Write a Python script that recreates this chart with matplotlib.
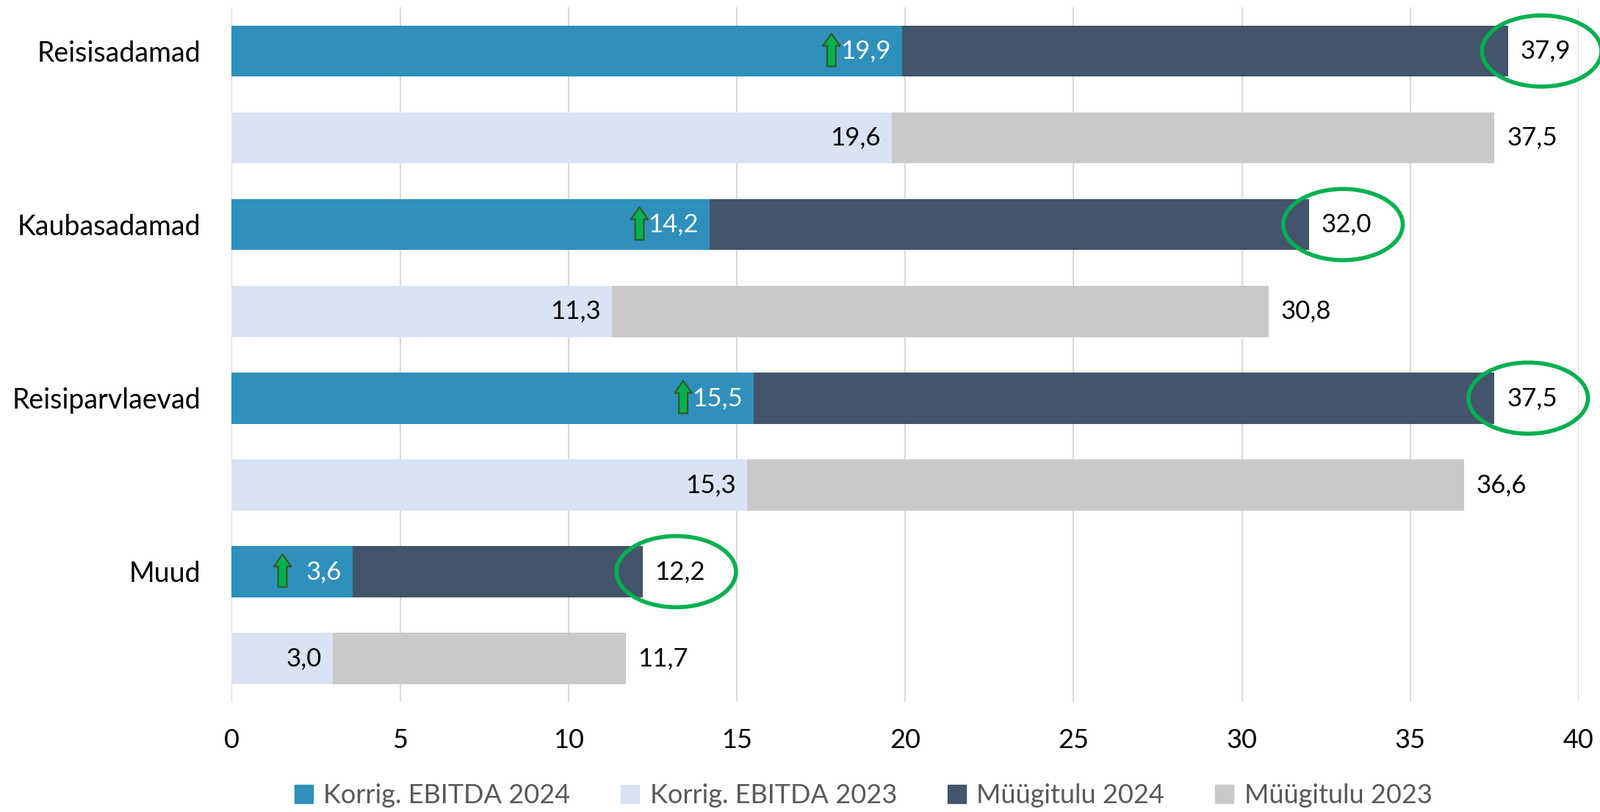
import numpy as np
import matplotlib.pyplot as plt
from matplotlib.patches import Ellipse, Patch
from matplotlib.transforms import offset_copy

plt.rcParams['font.family'] = ['Lato', 'DejaVu Sans']

# Data (MEUR), top to bottom
segments = ["Reisisadamad", "Kaubasadamad", "Reisiparvlaevad", "Muud"]
ebitda_2024 = [19.9, 14.2, 15.5, 3.6]
ebitda_2023 = [19.6, 11.3, 15.3, 3.0]
revenue_2024 = [37.9, 32.0, 37.5, 12.2]
revenue_2023 = [37.5, 30.8, 36.6, 11.7]
x_ticks = [0, 5, 10, 15, 20, 25, 30, 35, 40]

legend_labels = ["Korrig. EBITDA 2024", "Korrig. EBITDA 2023", "Müügitulu 2024", "Müügitulu 2023"]

c_eb24 = '#2E90BB'
c_eb23 = '#DAE3F3'
c_rev24 = '#44546A'
c_rev23 = '#C9C9C9'
c_green = '#00B050'


def fmt(v):
    return f"{v:.1f}".replace('.', ',')


fig = plt.figure(figsize=(21.78, 11.05), dpi=100)
ax = fig.add_axes([0.1448, 0.1357, 0.8419, 0.8549])

n = len(segments)
# each segment has two rows: 2024 on top, 2023 below
y24 = np.arange(n) * 2
y23 = y24 + 1
h = 0.59
lab_fs = 25

ax.barh(y24, revenue_2024, height=h, color=c_rev24, zorder=2)
ax.barh(y24, ebitda_2024, height=h, color=c_eb24, zorder=3)
ax.barh(y23, revenue_2023, height=h, color=c_rev23, zorder=2)
ax.barh(y23, ebitda_2023, height=h, color=c_eb23, zorder=3)

for i in range(n):
    # EBITDA labels inside bar end
    ax.annotate(fmt(ebitda_2024[i]), (ebitda_2024[i], y24[i]), xytext=(-11, 0),
                textcoords='offset points', ha='right', va='center',
                fontsize=lab_fs, color='white', zorder=5)
    ax.annotate(fmt(ebitda_2023[i]), (ebitda_2023[i], y23[i]), xytext=(-11, 0),
                textcoords='offset points', ha='right', va='center',
                fontsize=lab_fs, color='black', zorder=5)
    # revenue labels outside bar end
    ax.annotate(fmt(revenue_2024[i]), (revenue_2024[i], y24[i]), xytext=(12, 0),
                textcoords='offset points', ha='left', va='center',
                fontsize=lab_fs, color='black', zorder=5)
    ax.annotate(fmt(revenue_2023[i]), (revenue_2023[i], y23[i]), xytext=(12, 0),
                textcoords='offset points', ha='left', va='center',
                fontsize=lab_fs, color='black', zorder=5)

    # green ellipse round the 2024 revenue label
    ell = Ellipse((revenue_2024[i] + 1.0, y24[i]), width=3.55, height=0.82,
                  fill=False, edgecolor=c_green, linewidth=4, zorder=6, clip_on=False)
    ax.add_patch(ell)

    # green up arrow left of the 2024 EBITDA label
    head = offset_copy(ax.transData, fig=fig, x=-69, y=17, units='points')
    tail = offset_copy(ax.transData, fig=fig, x=-69, y=-15, units='points')
    ax.annotate('', xy=(ebitda_2024[i], y24[i]), xycoords=head,
                xytext=(ebitda_2024[i], y24[i]), textcoords=tail,
                arrowprops=dict(arrowstyle='simple,head_width=1.7,head_length=1.2,tail_width=0.85',
                                fc=c_green, ec='#375623', lw=1.5, shrinkA=0, shrinkB=0),
                zorder=6)

ax.set_xlim(0, 40)
ax.set_ylim(2 * n - 0.5, -0.5)
ax.set_xticks(x_ticks)
ax.set_xticklabels([str(t) for t in x_ticks], fontsize=26)
ax.set_yticks(y24)
ax.set_yticklabels(segments, fontsize=27)
ax.tick_params(axis='both', length=0, colors='black')
ax.tick_params(axis='x', pad=26)
ax.tick_params(axis='y', pad=30)
ax.grid(axis='x', color='#D9D9D9', linewidth=1.5, zorder=0)
ax.set_axisbelow(True)
for s in ax.spines.values():
    s.set_visible(False)

handles = [Patch(color=c_eb24), Patch(color=c_eb23), Patch(color=c_rev24), Patch(color=c_rev23)]
fig.legend(handles, legend_labels, loc='center', bbox_to_anchor=(0.5395, 0.02), ncol=4,
           frameon=False, fontsize=26, labelcolor='#595959', handlelength=0.7, handleheight=0.7,
           handletextpad=0.4, columnspacing=1.9)

plt.savefig('out.png', dpi=100)
